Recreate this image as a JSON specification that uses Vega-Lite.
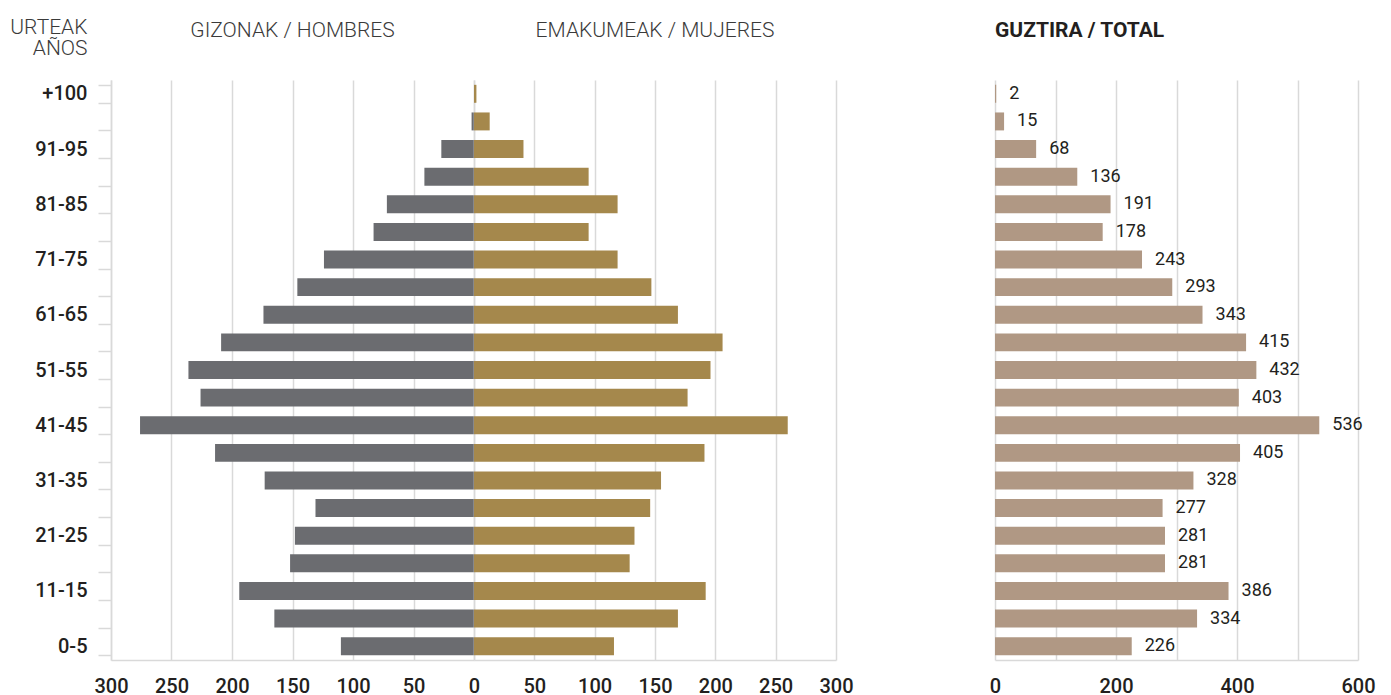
{
  "$schema": "https://vega.github.io/schema/vega-lite/v6.json",
  "background": "white",
  "padding": {"left": 9, "top": 16, "right": 5, "bottom": 0},
  "config": {
    "view": {"stroke": null},
    "font": "Roboto",
    "axis": {"gridColor": "#d9d9d9", "gridWidth": 1.5, "domainColor": "#d9d9d9", "domainWidth": 1.5, "labelFont": "Roboto", "labelColor": "#231f20"}
  },
  "data": {
    "values": [
      {"age": "+100", "men": 0, "women": 2, "total": 2},
      {"age": "96-100", "men": 2, "women": 13, "total": 15},
      {"age": "91-95", "men": 27, "women": 41, "total": 68},
      {"age": "86-90", "men": 41, "women": 95, "total": 136},
      {"age": "81-85", "men": 72, "women": 119, "total": 191},
      {"age": "76-80", "men": 83, "women": 95, "total": 178},
      {"age": "71-75", "men": 124, "women": 119, "total": 243},
      {"age": "66-70", "men": 146, "women": 147, "total": 293},
      {"age": "61-65", "men": 174, "women": 169, "total": 343},
      {"age": "56-60", "men": 209, "women": 206, "total": 415},
      {"age": "51-55", "men": 236, "women": 196, "total": 432},
      {"age": "46-50", "men": 226, "women": 177, "total": 403},
      {"age": "41-45", "men": 276, "women": 260, "total": 536},
      {"age": "36-40", "men": 214, "women": 191, "total": 405},
      {"age": "31-35", "men": 173, "women": 155, "total": 328},
      {"age": "26-30", "men": 131, "women": 146, "total": 277},
      {"age": "21-25", "men": 148, "women": 133, "total": 281},
      {"age": "16-20", "men": 152, "women": 129, "total": 281},
      {"age": "11-15", "men": 194, "women": 192, "total": 386},
      {"age": "6-10", "men": 165, "women": 169, "total": 334},
      {"age": "0-5", "men": 110, "women": 116, "total": 226}
    ]
  },
  "spacing": 135,
  "hconcat": [
    {
      "spacing": 0,
      "bounds": "flush",
      "hconcat": [
        {
          "width": 363,
          "height": 580,
          "title": {"text": "GIZONAK / HOMBRES", "anchor": "middle", "frame": "group", "offset": -25, "fontSize": 21, "fontWeight": 300, "color": "#3a3a3a", "font": "Roboto"},
          "mark": {"type": "bar", "color": "#6b6c70"},
          "encoding": {
            "y": {
              "field": "age", "type": "nominal", "sort": null,
              "scale": {"paddingInner": 0.35, "paddingOuter": 0.175},
              "axis": {
                "title": ["URTEAK", "AÑOS"], "titleAngle": 0, "titleAlign": "right", "titleBaseline": "top",
                "titleX": -24, "titleY": -64, "titleFontSize": 21, "titleFontWeight": 300, "titleLineHeight": 21, "titleColor": "#3a3a3a", "titleFont": "Roboto",
                "labelExpr": "test(/5$/, datum.label) || datum.label == '+100' ? datum.label : ''",
                "labelFontSize": 20, "labelFontWeight": 500, "labelPadding": 11,
                "ticks": true, "tickSize": 13, "tickColor": "#d9d9d9", "tickWidth": 1.5, "tickBand": "extent",
                "domain": true, "grid": false
              }
            },
            "x": {
              "field": "men", "type": "quantitative",
              "scale": {"domain": [0, 300], "reverse": true, "nice": false},
              "axis": {
                "title": null, "values": [0, 50, 100, 150, 200, 250, 300], "grid": true, "ticks": false, "domain": true,
                "labelFlush": false, "labelOverlap": false, "labelFontSize": 20, "labelFontWeight": 500, "labelPadding": 16
              }
            }
          }
        },
        {
          "width": 362,
          "height": 580,
          "title": {"text": "EMAKUMEAK / MUJERES", "anchor": "middle", "frame": "group", "offset": 39, "fontSize": 21, "fontWeight": 300, "color": "#3a3a3a", "font": "Roboto"},
          "mark": {"type": "bar", "color": "#a5884c"},
          "encoding": {
            "y": {"field": "age", "type": "nominal", "sort": null, "scale": {"paddingInner": 0.35, "paddingOuter": 0.175}, "axis": null},
            "x": {
              "field": "women", "type": "quantitative",
              "scale": {"domain": [0, 300], "nice": false},
              "axis": {
                "title": null, "values": [0, 50, 100, 150, 200, 250, 300], "grid": true, "ticks": false, "domain": true,
                "labelExpr": "datum.value == 0 ? '' : datum.label",
                "labelFlush": false, "labelOverlap": false, "labelFontSize": 20, "labelFontWeight": 500, "labelPadding": 16
              }
            }
          }
        }
      ]
    },
    {
      "width": 363,
      "height": 580,
      "title": {"text": "GUZTIRA / TOTAL", "anchor": "start", "frame": "group", "offset": 39, "fontSize": 21, "fontWeight": "bold", "color": "#231f20", "font": "Roboto"},
      "encoding": {
        "y": {"field": "age", "type": "nominal", "sort": null, "scale": {"paddingInner": 0.35, "paddingOuter": 0.175}, "axis": null}
      },
      "layer": [
        {
          "mark": {"type": "bar", "color": "#b09884"},
          "encoding": {
            "x": {
              "field": "total", "type": "quantitative",
              "scale": {"domain": [0, 600], "nice": false},
              "axis": {
                "title": null, "values": [0, 100, 200, 300, 400, 500, 600], "grid": true, "ticks": false, "domain": true,
                "labelExpr": "datum.value % 200 == 0 ? datum.label : ''",
                "labelFlush": false, "labelOverlap": false, "labelFontSize": 20, "labelFontWeight": 500, "labelPadding": 16
              }
            }
          }
        },
        {
          "mark": {"type": "text", "align": "left", "baseline": "middle", "dx": 13, "fontSize": 18, "color": "#231f20", "font": "Roboto"},
          "encoding": {
            "x": {"field": "total", "type": "quantitative"},
            "text": {"field": "total", "type": "quantitative"}
          }
        }
      ]
    }
  ]
}
